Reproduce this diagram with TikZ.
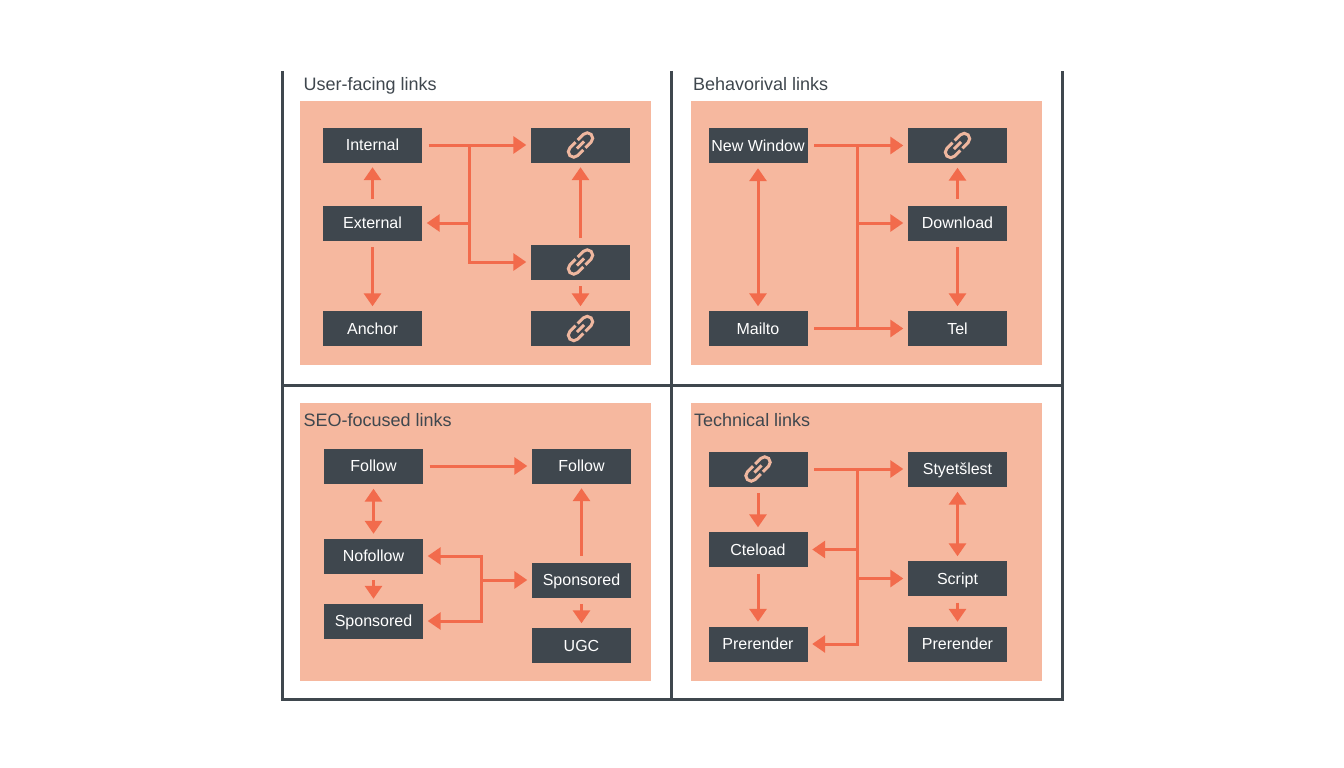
\documentclass[tikz,border=0pt]{standalone}
\usepackage{fontspec}
\setmainfont{Liberation Sans}
\usetikzlibrary{arrows.meta}
\definecolor{slate}{HTML}{3F474E}
\definecolor{peach}{HTML}{F6B89F}
\definecolor{coral}{HTML}{F26B4C}
\definecolor{chainpink}{HTML}{EFB79F}
\tikzset{
    box/.style={fill=slate, text=white, minimum width=99pt, minimum height=35pt, inner sep=0pt, text height=11.5pt, text depth=0pt, font=\fontsize{16}{19}\selectfont},
    title/.style={text=slate, anchor=base west, inner sep=0pt, font=\fontsize{18}{22}\selectfont},
    panel/.style={fill=peach},
    frameline/.style={draw=slate, line width=3pt},
    flow/.style={draw=coral, line width=3pt, -{Triangle[length=13pt,width=17pt]}, shorten <=6.5pt, shorten >=4.5pt},
    branch/.style={flow, shorten <=0pt},
    both/.style={flow, {Triangle[length=13pt,width=17pt]}-{Triangle[length=13pt,width=17pt]}, shorten <=5pt},
    bus/.style={draw=coral, line width=3pt},
    chain/.pic={
        \begin{scope}[rotate=45, draw=chainpink, line width=3pt, rounded corners=5.5pt]
            \draw (1.5,5.5) -- (15,5.5) -- (15,-5.5) -- (1.5,-5.5);
            \draw (-1.5,5.5) -- (-15,5.5) -- (-15,-5.5) -- (-1.5,-5.5);
            \draw (-5,0) -- (5,0);
        \end{scope}
    }
}
\begin{document}
\begin{tikzpicture}[x=1pt, y=-1pt]
    \useasboundingbox (0,0) rectangle (1344,768);
    \fill[white] (0,0) rectangle (1344,768);

    % panels
    \fill[panel] (300,101) rectangle (651,365);
    \fill[panel] (691,101) rectangle (1042,365);
    \fill[panel] (300,403) rectangle (651,681);
    \fill[panel] (691,403) rectangle (1042,681);

    % frame
    \draw[frameline] (282,71) -- (282,699) -- (1062,699) -- (1062,71);
    \draw[frameline] (671,71) -- (671,699);
    \draw[frameline] (282,385) -- (1062,385);

    \node[title] (t1) at (303.5,91) {User-facing links};
    \node[title] (t2) at (693,91) {Behavorival links};
    \node[title] (t3) at (303.5,426.5) {SEO-focused links};
    \node[title] (t4) at (694,426.5) {Technical links};

    % user-facing
    \node[box] (internal) at (372.5,145) {Internal};
    \node[box] (external) at (372.5,223) {External};
    \node[box] (anchor) at (372.5,328.5) {Anchor};
    \node[box] (u1) at (580.5,145) {};
    \node[box] (u2) at (580.5,262) {};
    \node[box] (u3) at (580.5,328.5) {};
    \pic at (u1) {chain};
    \pic at (u2) {chain};
    \pic at (u3) {chain};

    \coordinate (busu) at (469,145);
    \draw [flow] (internal) -- (u1);
    \draw [branch] (busu) |- (u2);
    \draw [branch] (busu |- external) -- (external);
    \draw [flow] (external) -- (internal);
    \draw [flow] (external) -- (anchor);
    \draw [flow] (u2) -- (u1);
    \draw [flow] (u2) -- (u3);

    % behavioral
    \node[box] (window) at (758,145.5) {New Window};
    \node[box] (mailto) at (758,328.5) {Mailto};
    \node[box] (b1) at (957.5,145.5) {};
    \node[box] (download) at (957.5,223) {Download};
    \node[box] (tel) at (957.5,328.5) {Tel};
    \pic at (b1) {chain};

    \coordinate (busb) at (857,145.5);
    \draw [flow] (window) -- (b1);
    \draw [flow] (mailto) -- (tel);
    \draw [bus] (busb) -- (busb |- tel);
    \draw [branch] (busb |- download) -- (download);
    \draw [both] (window) -- (mailto);
    \draw [flow] (download) -- (b1);
    \draw [flow] (download) -- (tel);

    % seo
    \node[box] (followa) at (373.5,466) {Follow};
    \node[box] (followb) at (581.5,466) {Follow};
    \node[box] (nofollow) at (373.5,556) {Nofollow};
    \node[box] (sponsa) at (373.5,621) {Sponsored};
    \node[box] (sponsb) at (581.5,580) {Sponsored};
    \node[box] (ugc) at (581.5,645.5) {UGC};

    \coordinate (buss) at (481,580);
    \draw [flow] (followa) -- (followb);
    \draw [both] (followa) -- (nofollow);
    \draw [flow] (nofollow) -- (sponsa);
    \draw [flow] (sponsb) -- (followb);
    \draw [flow] (sponsb) -- (ugc);
    \draw [branch] (buss) |- (nofollow);
    \draw [branch] (buss) |- (sponsa);
    \draw [branch] (buss) -- (sponsb);

    % technical
    \node[box] (t0) at (758,469) {};
    \node[box] (cteload) at (758,549.5) {Cteload};
    \node[box] (prea) at (758,644) {Prerender};
    \node[box] (style) at (957.5,469) {Styetšlest};
    \node[box] (script) at (957.5,578.5) {Script};
    \node[box] (preb) at (957.5,644) {Prerender};
    \pic at (t0) {chain};

    \coordinate (bust) at (857.5,469);
    \draw [flow] (t0) -- (style);
    \draw [branch] (bust) |- (prea);
    \draw [branch] (bust |- cteload) -- (cteload);
    \draw [branch] (bust |- script) -- (script);
    \draw [flow] (t0) -- (cteload);
    \draw [flow] (cteload) -- (prea);
    \draw [both] (style) -- (script);
    \draw [flow] (script) -- (preb);
\end{tikzpicture}
\end{document}
